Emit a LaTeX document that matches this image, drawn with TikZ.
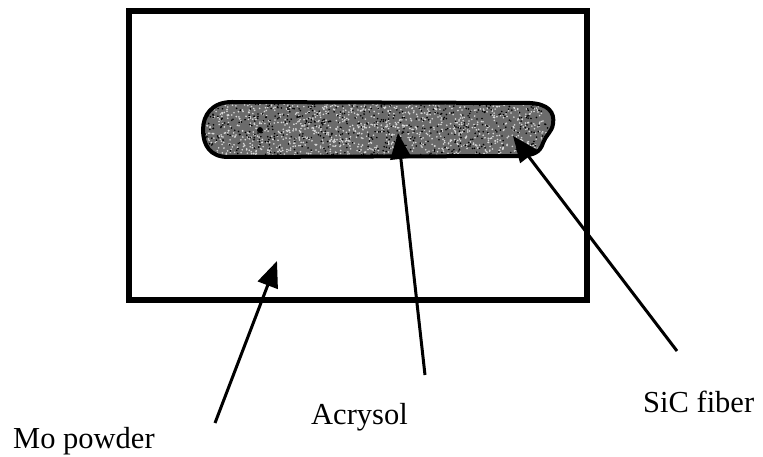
\documentclass[tikz,border=0pt]{standalone}
\usepackage{fontspec}
\setmainfont{Liberation Serif}
\usetikzlibrary{arrows.meta}
\begin{document}
\begin{tikzpicture}[x=1pt,y=-1pt,
  frame/.style={line width=6pt,draw=black},
  fibre/.style={line width=4pt,draw=black},
  pointer/.style={line width=3pt,-{Triangle[length=26pt,width=21pt]}},
  lbl/.style={font=\fontsize{30.5}{36}\selectfont,inner sep=0pt,anchor=base west}]
\useasboundingbox (0,0) rectangle (763,457);
\draw[frame] (128.5,11) rectangle (587,300);
\def\fibrepath{(232,102) -- (530,103) .. controls (548,104) and (555,112) .. (553,124)
  .. controls (552,132) and (545,136) .. (543,143)
  .. controls (540,152) and (535,155) .. (520,156) -- (228,157)
  .. controls (210,157) and (203,145) .. (203,130)
  .. controls (203,115) and (212,102) .. (232,102) -- cycle}
\begin{scope}
  \clip \fibrepath;
  \fill[black!58] (200,100) rectangle (560,160);
  \pgfmathsetseed{7}
  \foreach \i in {1,...,1400}{
    \pgfmathsetmacro{\rx}{200+360*rnd}
    \pgfmathsetmacro{\ry}{100+60*rnd}
    \fill[white!85!black] (\rx,\ry) circle (0.9pt);
  }
  \foreach \i in {1,...,700}{
    \pgfmathsetmacro{\rx}{200+360*rnd}
    \pgfmathsetmacro{\ry}{100+60*rnd}
    \fill[black] (\rx,\ry) circle (0.9pt);
  }
\end{scope}
\draw[fibre] \fibrepath;
\fill[black] (260,130) circle (3pt);
\node[lbl] (mo) at (13,448) {Mo powder};
\node[lbl] (acr) at (311,424) {Acrysol};
\node[lbl] (sic) at (643,412) {SiC fiber};
\coordinate (moT) at (215,423);
\coordinate (moH) at (277,261);
\coordinate (acT) at (425,375);
\coordinate (acH) at (398,133);
\coordinate (siT) at (677,351);
\coordinate (siH) at (513,136);
\draw[pointer] (moT) -- (moH);
\draw[pointer] (acT) -- (acH);
\draw[pointer] (siT) -- (siH);
\end{tikzpicture}
\end{document}
